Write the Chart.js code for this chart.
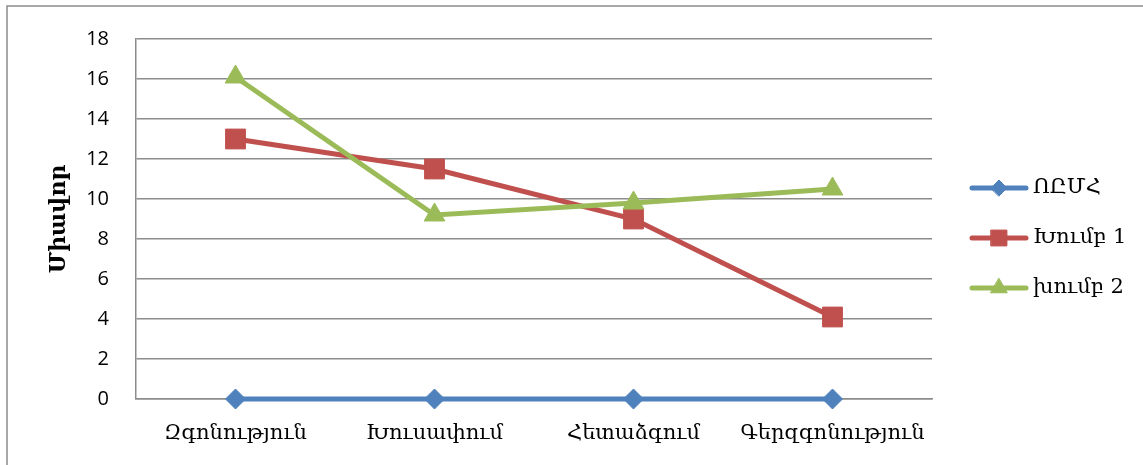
<!DOCTYPE html>
<html>
<head>
<meta charset="utf-8">
<script src="https://cdn.jsdelivr.net/npm/chart.js@4.4.1/dist/chart.umd.min.js"></script>
<style>
    html, body { margin: 0; padding: 0; background: #fff; overflow: hidden; }
    #wrap { position: relative; width: 1143px; height: 465px; }
</style>
</head>
<body>
<div id="wrap"><canvas id="chart" width="1143" height="465"></canvas></div>
<script>
// --- Data ---
const categories = ['Զգոնություն', 'Խուսափում', 'Հետաձգում', 'Գերզգոնություն'];
const seriesNames = ['ՈԸՄՀ', 'Խումբ 1', 'խումբ 2'];
const ormhValues = [0, 0, 0, 0];
const group1Values = [13, 11.5, 9, 4.1];
const group2Values = [16.1, 9.2, 9.8, 10.5];
const yTickValues = [0, 2, 4, 6, 8, 10, 12, 14, 16, 18];
const yTitle = 'Միավոր';

const colors = { blue: '#4F81BD', red: '#C0504D', green: '#9BBB59', grid: '#8C8C8C' };
const armFont = "'DejaVu Serif', serif";

// --- Plugins: outer frame, rotated axis title, line legend ---
const framePlugin = {
    id: 'frame',
    beforeDraw(chart) {
        const ctx = chart.ctx;
        ctx.save();
        ctx.strokeStyle = '#8C8C8C';
        ctx.lineWidth = 1.5;
        ctx.beginPath();
        ctx.moveTo(7, 470);
        ctx.lineTo(7, 6);
        ctx.lineTo(1150, 6);
        ctx.stroke();
        ctx.restore();
    },
    afterDraw(chart) {
        const ctx = chart.ctx;
        const area = chart.chartArea;
        // y axis title
        ctx.save();
        ctx.translate(59, (area.top + area.bottom) / 2);
        ctx.rotate(-Math.PI / 2);
        ctx.font = "bold 22px " + armFont;
        ctx.fillStyle = '#000';
        ctx.textAlign = 'center';
        ctx.textBaseline = 'middle';
        ctx.fillText(yTitle, 0, 0);
        ctx.restore();

        // legend
        const rows = [188, 238, 288];
        chart.data.datasets.forEach((ds, i) => {
            const y = rows[i];
            ctx.save();
            ctx.strokeStyle = ds.borderColor;
            ctx.lineWidth = 5;
            ctx.lineCap = 'round';
            ctx.beginPath();
            ctx.moveTo(972, y);
            ctx.lineTo(1026, y);
            ctx.stroke();
            ctx.fillStyle = ds.backgroundColor;
            ctx.strokeStyle = ds.backgroundColor;
            ctx.lineWidth = 1;
            Chart.helpers.drawPoint(ctx, { pointStyle: ds.pointStyle, radius: ds.pointRadius * 0.8, borderWidth: 1 }, 999, y);
            ctx.font = "21px " + armFont;
            ctx.fillStyle = '#000';
            ctx.textBaseline = 'middle';
            ctx.fillText(ds.label, 1033, y);
            ctx.restore();
        });
    }
};

const ctx = document.getElementById('chart').getContext('2d');
new Chart(ctx, {
    type: 'line',
    data: {
        labels: categories,
        datasets: [
            { label: seriesNames[0], data: ormhValues, borderColor: colors.blue, backgroundColor: colors.blue, borderWidth: 5, pointStyle: 'rectRot', pointRadius: 10, pointBorderWidth: 1, order: 3, clip: false },
            { label: seriesNames[1], data: group1Values, borderColor: colors.red, backgroundColor: colors.red, borderWidth: 5, pointStyle: 'rect', pointRadius: 14, pointBorderWidth: 1, order: 2, clip: false },
            { label: seriesNames[2], data: group2Values, borderColor: colors.green, backgroundColor: colors.green, borderWidth: 5, pointStyle: 'triangle', pointRadius: 12, pointBorderWidth: 1, order: 1, clip: false }
        ]
    },
    options: {
        responsive: false,
        animation: false,
        tension: 0,
        layout: { padding: { left: 0, top: 35, right: 211, bottom: 0 } },
        plugins: { legend: { display: false }, tooltip: { enabled: false } },
        scales: {
            x: {
                offset: true,
                grid: { display: false, drawTicks: false },
                border: { display: true, color: colors.grid, width: 1.5 },
                ticks: { color: '#000', font: { family: armFont, size: 21 }, padding: 22, maxRotation: 0, autoSkip: false },
                afterFit(scale) { scale.height = 66; }
            },
            y: {
                min: 0,
                max: 18,
                afterBuildTicks(scale) { scale.ticks = yTickValues.map(v => ({ value: v })); },
                grid: { color: colors.grid, lineWidth: 1.5, drawTicks: false },
                border: { display: true, color: colors.grid, width: 1.5 },
                ticks: { color: '#000', font: { family: "'Open Sans', sans-serif", size: 20 }, padding: 27 },
                afterFit(scale) { scale.width = 136; }
            }
        }
    },
    plugins: [framePlugin]
});
</script>
</body>
</html>
